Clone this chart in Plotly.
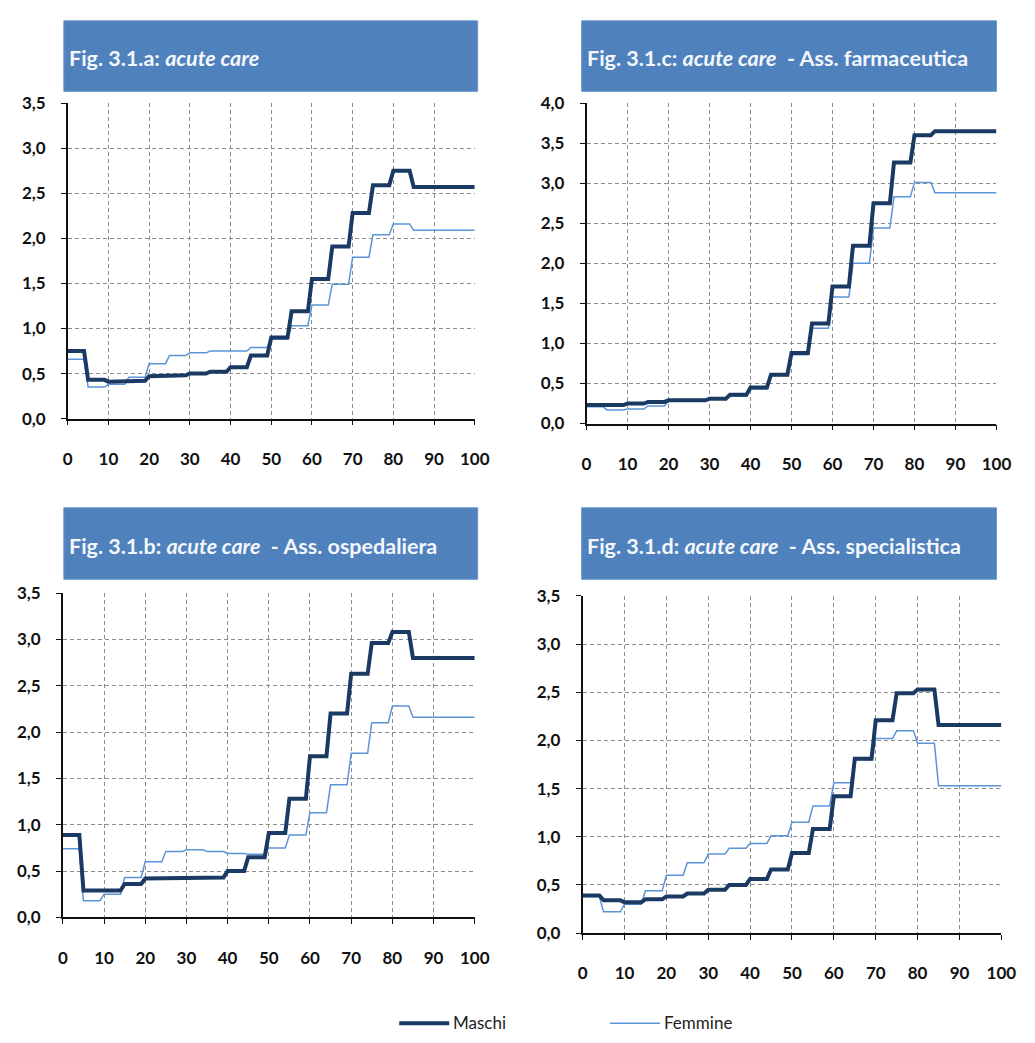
import plotly.graph_objects as go

# Age groups 0-4, 5-9, ..., 80-84, 85+
ages = list(range(0, 101))
group_starts = [0, 5, 10, 15, 20, 25, 30, 35, 40, 45, 50, 55, 60, 65, 70, 75, 80, 85]

a_maschi = [0.75, 0.43, 0.41, 0.42, 0.47, 0.48, 0.50, 0.52, 0.57, 0.70, 0.90, 1.19, 1.55, 1.91, 2.28, 2.59, 2.75, 2.57]
a_femmine = [0.66, 0.35, 0.38, 0.46, 0.61, 0.70, 0.73, 0.75, 0.75, 0.79, 0.88, 1.03, 1.26, 1.49, 1.79, 2.04, 2.16, 2.09]

c_maschi = [0.23, 0.23, 0.25, 0.27, 0.29, 0.29, 0.31, 0.36, 0.45, 0.61, 0.88, 1.25, 1.71, 2.22, 2.75, 3.26, 3.60, 3.65]
c_femmine = [0.21, 0.17, 0.18, 0.22, 0.28, 0.29, 0.31, 0.34, 0.43, 0.60, 0.86, 1.19, 1.58, 2.00, 2.44, 2.83, 3.01, 2.88]

b_maschi = [0.89, 0.29, 0.29, 0.36, 0.42, 0.43, 0.42, 0.43, 0.50, 0.65, 0.91, 1.28, 1.74, 2.20, 2.63, 2.96, 3.08, 2.80]
b_femmine = [0.74, 0.18, 0.25, 0.43, 0.60, 0.71, 0.73, 0.71, 0.69, 0.68, 0.75, 0.89, 1.13, 1.43, 1.77, 2.10, 2.28, 2.16]

d_maschi = [0.39, 0.34, 0.32, 0.35, 0.38, 0.41, 0.45, 0.50, 0.56, 0.66, 0.83, 1.08, 1.42, 1.81, 2.21, 2.49, 2.53, 2.16]
d_femmine = [0.38, 0.22, 0.30, 0.44, 0.60, 0.73, 0.82, 0.88, 0.93, 1.01, 1.15, 1.32, 1.56, 1.80, 2.02, 2.10, 1.97, 1.53]

titles = [
    "Fig. 3.1.a: <i>acute care</i>",
    "Fig. 3.1.c: <i>acute care</i>  - Ass. farmaceutica",
    "Fig. 3.1.b: <i>acute care</i>  - Ass. ospedaliera",
    "Fig. 3.1.d: <i>acute care</i>  - Ass. specialistica",
]
series_names = ["Maschi", "Femmine"]
y_max = [3.5, 4.0, 3.5, 3.5]
x_ticks = [0, 10, 20, 30, 40, 50, 60, 70, 80, 90, 100]

W, H = 1035, 1043
# pixel geometry of each panel: (x0, x1, ytop, ybottom), title box (x0, x1, y0, y1)
panels = [
    dict(m=a_maschi, f=a_femmine, px=(64, 479, 94, 416), box=(60, 482, 10, 82)),
    dict(m=c_maschi, f=c_femmine, px=(593, 1011, 94, 421), box=(588, 1011, 10, 82)),
    dict(m=b_maschi, f=b_femmine, px=(59, 479, 594, 925), box=(60, 482, 507, 580)),
    dict(m=d_maschi, f=d_femmine, px=(589, 1016, 597, 941), box=(588, 1011, 507, 580)),
]

def expand(vals):
    out = []
    for a in ages:
        idx = 0
        for i, s in enumerate(group_starts):
            if a >= s:
                idx = i
        out.append(vals[idx])
    return out

fig = go.Figure()
MASCHI_COL = "#1B3A63"
FEMMINE_COL = "#5B94D8"
tickfont = dict(family="Lato", size=17, color="#111111", weight="bold")
GRID = "#8c8c8c"

shapes = []
annotations = []
for i, p in enumerate(panels):
    n = "" if i == 0 else str(i + 1)
    x0, x1, yt, yb = p["px"]
    xd = [x0 / W, x1 / W]
    yd = [1 - yb / H, 1 - yt / H]
    fig.add_trace(go.Scatter(x=ages, y=expand(p["f"]), mode="lines", name=series_names[1],
                             line=dict(color=FEMMINE_COL, width=1.5),
                             xaxis="x" + n, yaxis="y" + n, showlegend=False))
    fig.add_trace(go.Scatter(x=ages, y=expand(p["m"]), mode="lines", name=series_names[0],
                             line=dict(color=MASCHI_COL, width=4),
                             xaxis="x" + n, yaxis="y" + n, showlegend=False))
    fig.update_layout(**{
        "xaxis" + n: dict(domain=xd, range=[0, 100], tickvals=x_ticks, showgrid=True,
                          gridcolor=GRID, griddash="4px,3px", gridwidth=1,
                          showline=True, linecolor="#111111", linewidth=1.5,
                          ticks="outside", ticklen=5, tickcolor="#111111",
                          tickfont=tickfont, ticklabelstandoff=19, zeroline=False,
                          anchor="y" + n, fixedrange=True),
        "yaxis" + n: dict(domain=yd, range=[0, y_max[i]], dtick=0.5, tickformat=".1f",
                          showgrid=True, gridcolor=GRID, griddash="4px,3px", gridwidth=1,
                          showline=True, linecolor="#111111", linewidth=1.5,
                          ticks="outside", ticklen=5, tickcolor="#111111",
                          tickfont=tickfont, ticklabelstandoff=12, zeroline=False,
                          anchor="x" + n, fixedrange=True),
    })
    bx0, bx1, by0, by1 = p["box"]
    shapes.append(dict(type="rect", xref="paper", yref="paper",
                       x0=bx0 / W, x1=bx1 / W, y0=1 - by1 / H, y1=1 - by0 / H,
                       fillcolor="#4F81BD", line=dict(color="#6E98CC", width=1), layer="below"))
    annotations.append(dict(text="<b>" + titles[i] + "</b>", xref="paper", yref="paper",
                            x=(bx0 + 3) / W, y=1 - ((by0 + by1) / 2 + 2) / H,
                            xanchor="left", yanchor="middle", showarrow=False,
                            font=dict(family="Lato", size=21.5, color="#F4F7FB")))

# legend drawn at the bottom centre
legend_items = [(series_names[0], MASCHI_COL, 4, 402), (series_names[1], FEMMINE_COL, 1.5, 617)]
for name, col, w, lx in legend_items:
    shapes.append(dict(type="line", xref="paper", yref="paper",
                       x0=lx / W, x1=(lx + 51) / W, y0=1 - 1033 / H, y1=1 - 1033 / H,
                       line=dict(color=col, width=w)))
    annotations.append(dict(text=name, xref="paper", yref="paper",
                            x=(lx + 53) / W, y=1 - 1032 / H, xanchor="left", yanchor="middle",
                            showarrow=False, font=dict(family="Lato", size=17, color="#222222")))

fig.update_layout(
    width=W, height=H,
    margin=dict(l=0, r=0, t=0, b=0),
    paper_bgcolor="white", plot_bgcolor="white",
    separators=",.",
    shapes=shapes, annotations=annotations,
    showlegend=False,
)

fig.write_html("out.html", config={"displayModeBar": False},
               post_script="document.body.style.margin='0';document.body.style.padding='0';")
